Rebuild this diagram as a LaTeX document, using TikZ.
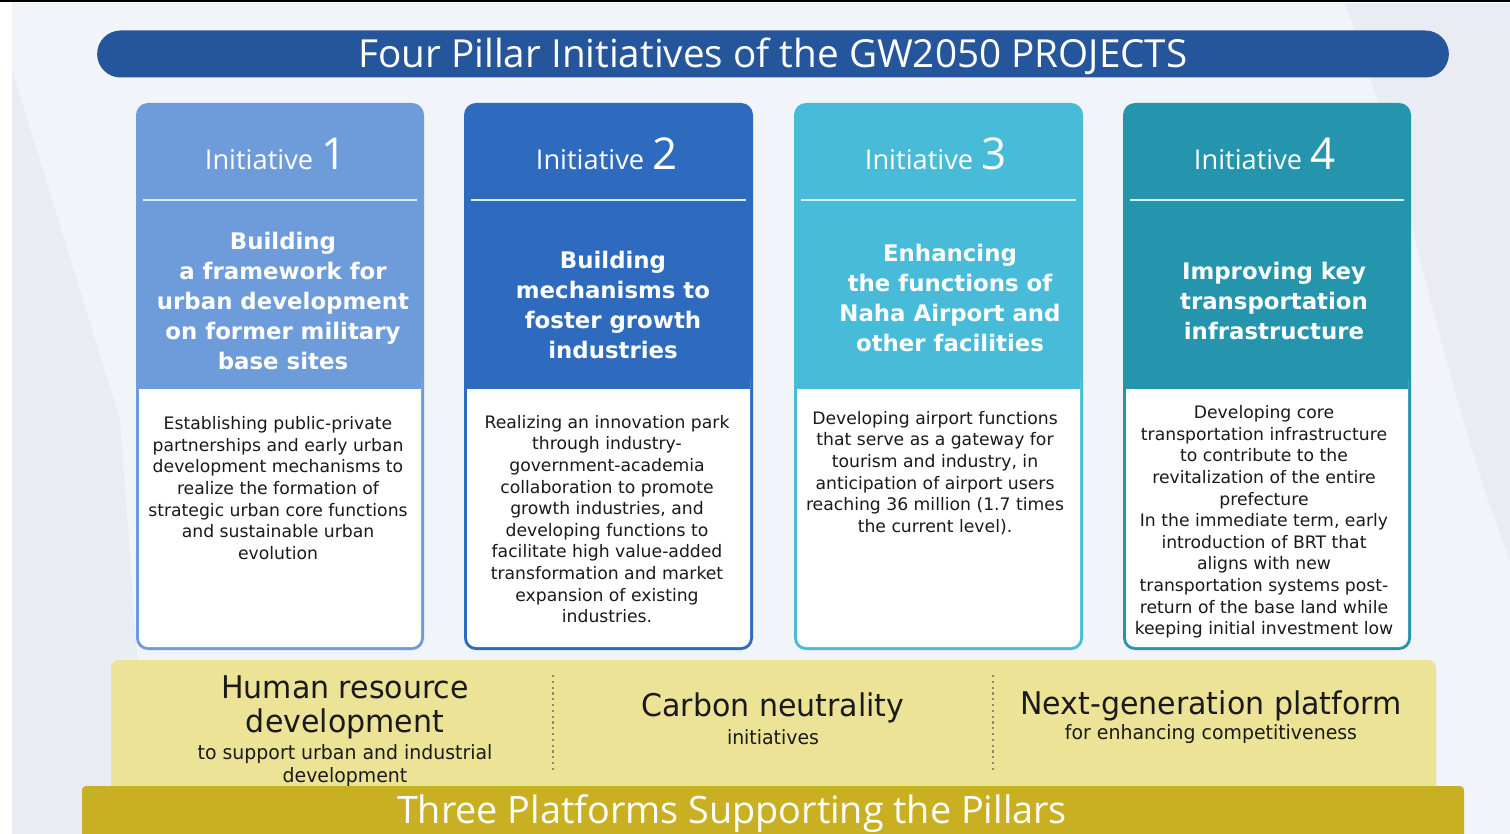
\documentclass[tikz,border=0pt]{standalone}
\usepackage{fontspec}
\setmainfont{DejaVu Sans}
\newfontfamily\openfont{Open Sans}
\newfontfamily\platfont[FakeStretch=0.96]{DejaVu Sans}
\definecolor{bgLight}{HTML}{F1F4F8}
\definecolor{bgShade}{HTML}{E9EDF3}
\definecolor{titleBlue}{HTML}{25559A}
\definecolor{pillarOne}{HTML}{6E9BDA}
\definecolor{pillarTwo}{HTML}{2E6BBE}
\definecolor{pillarThree}{HTML}{48BBD8}
\definecolor{pillarFour}{HTML}{2594AD}
\definecolor{sepCyan}{HTML}{D4F0FA}
\definecolor{baseYellow}{HTML}{EDE397}
\definecolor{baseOlive}{HTML}{C8B022}
\definecolor{dotGray}{HTML}{8F8866}
\definecolor{inkBlack}{HTML}{1A1A1A}

\begin{document}
\begin{tikzpicture}[x=0.02cm, y=-0.02cm,
    title_style/.style={fill=titleBlue, rounded corners=0.47cm, minimum width=27.04cm, minimum height=0.94cm, inner sep=0},
    init_style/.style={anchor=base, inner sep=0, text=white, font=\openfont\fontsize{15.5}{18}\selectfont},
    head_style/.style={align=center, inner sep=0, text=white, font=\bfseries\fontsize{13}{17.1}\selectfont},
    body_style/.style={align=center, inner sep=0, text=inkBlack, font=\fontsize{9.8}{12.3}\selectfont},
    sep_line/.style={draw=sepCyan, line width=1.6pt},
    plat_style/.style={align=center, inner sep=0, text=inkBlack, font=\platfont\fontsize{17.8}{19.4}\selectfont},
    plat_sub_style/.style={align=center, inner sep=0, text=inkBlack, font=\platfont\fontsize{11.2}{13.1}\selectfont},
    dot_line/.style={draw=dotGray, dotted, line width=1.3pt},
    band_text/.style={inner sep=0, text=white, font=\openfont\fontsize{21.5}{24}\selectfont}]

    \useasboundingbox (0,0) rectangle (1510,834);
    \clip (0,0) rectangle (1510,834);

    % background
    \fill[white] (0,0) rectangle (1510,834);
    \fill[bgLight] (12,3) rectangle (1510,834);
    \fill[bgShade] (12,70) -- (120,420) -- (150,834) -- (12,834) -- cycle;
    \fill[bgShade] (1345,3) .. controls (1410,180) and (1440,380) .. (1510,560) -- (1510,3) -- cycle;
    \fill[black] (0,0) rectangle (1510,2.5);

    % title
    \node[title_style] (title) at (773,54) {};
    \node[band_text, font=\openfont\fontsize{22}{24}\selectfont] (title_text) at (773,56) {Four Pillar Initiatives of the GW2050 PROJECTS};

    % pillar 1
    \fill[pillarOne, rounded corners=0.24cm] (136,103) rectangle (424,650);
    \fill[white, rounded corners=0.18cm] (139,370) rectangle (421,647);
    \fill[pillarOne] (139,360) rectangle (421,389);
    \draw[sep_line] (143,200) -- (417,200);
    \node[init_style] (init1) at (276,170) {Initiative\hspace{5pt}{\fontsize{25}{28}\selectfont 1}};
    \node[head_style] (head1) at (283,301) {Building\\a framework for\\urban development\\on former military\\base sites};
    \node[body_style] (body1) at (278,488) {Establishing public-private\\partnerships and early urban\\development mechanisms to\\realize the formation of\\strategic urban core functions\\and sustainable urban\\evolution};

    % pillar 2
    \fill[pillarTwo, rounded corners=0.24cm] (464,103) rectangle (753,650);
    \fill[white, rounded corners=0.18cm] (467,370) rectangle (750,647);
    \fill[pillarTwo] (467,360) rectangle (750,389);
    \draw[sep_line] (471,200) -- (746,200);
    \node[init_style] (init2) at (607,170) {Initiative\hspace{5pt}{\fontsize{25}{28}\selectfont 2}};
    \node[head_style] (head2) at (613,305) {Building\\mechanisms to\\foster growth\\industries};
    \node[body_style] (body2) at (607,519) {Realizing an innovation park\\through industry-\\government-academia\\collaboration to promote\\growth industries, and\\developing functions to\\facilitate high value-added\\transformation and market\\expansion of existing\\industries.};

    % pillar 3
    \fill[pillarThree, rounded corners=0.24cm] (794,103) rectangle (1083,650);
    \fill[white, rounded corners=0.18cm] (797,370) rectangle (1080,647);
    \fill[pillarThree] (797,360) rectangle (1080,389);
    \draw[sep_line] (801,200) -- (1076,200);
    \node[init_style] (init3) at (936,170) {Initiative\hspace{5pt}{\fontsize{25}{28}\selectfont 3}};
    \node[head_style] (head3) at (950,298) {Enhancing\\the functions of\\Naha Airport and\\other facilities};
    \node[body_style] (body3) at (935,473) {Developing airport functions\\that serve as a gateway for\\tourism and industry, in\\anticipation of airport users\\reaching 36 million (1.7 times\\the current level).};

    % pillar 4
    \fill[pillarFour, rounded corners=0.24cm] (1123,103) rectangle (1411,650);
    \fill[white, rounded corners=0.18cm] (1126,370) rectangle (1408,647);
    \fill[pillarFour] (1126,360) rectangle (1408,389);
    \draw[sep_line] (1130,200) -- (1404,200);
    \node[init_style] (init4) at (1265,170) {Initiative\hspace{5pt}{\fontsize{25}{28}\selectfont 4}};
    \node[head_style] (head4) at (1274,301) {Improving key\\transportation\\infrastructure};
    \node[body_style] (body4) at (1264,522) {Developing core\\transportation infrastructure\\to contribute to the\\revitalization of the entire\\prefecture\\In the immediate term, early\\introduction of BRT that\\aligns with new\\transportation systems post-\\return of the base land while\\keeping initial investment low};

    % platforms
    \fill[baseYellow, rounded corners=0.16cm] (111,660) rectangle (1436,800);
    \draw[dot_line] (553,675) -- (553,772);
    \draw[dot_line] (993,675) -- (993,772);
    \node[plat_style] (plat1) at (345,707) {Human resource\\development};
    \node[plat_sub_style] (plat1_sub) at (345,766) {to support urban and industrial\\development};
    \node[plat_style] (plat2) at (773,708) {Carbon neutrality};
    \node[plat_sub_style] (plat2_sub) at (773,737) {initiatives};
    \node[plat_style] (plat3) at (1211,706) {Next-generation platform};
    \node[plat_sub_style] (plat3_sub) at (1211,734) {for enhancing competitiveness};

    \fill[baseOlive, rounded corners=0.08cm] (82,786) rectangle (1464,850);
    \node[band_text] (base_text) at (732,814) {Three Platforms Supporting the Pillars};
\end{tikzpicture}
\end{document}
